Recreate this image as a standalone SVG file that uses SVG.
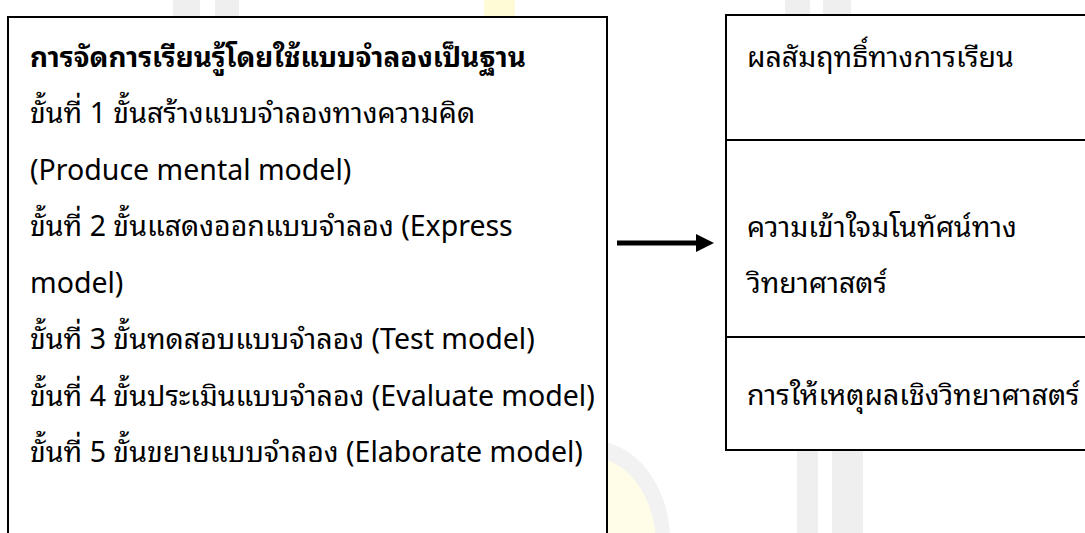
<svg xmlns="http://www.w3.org/2000/svg" width="1085" height="533" viewBox="0 0 1085 533">
<style>
.box{fill:#fff;stroke:#000;stroke-width:2}
.div{stroke:#000;stroke-width:2}
.t{font-family:"Noto Sans Thai Looped","Noto Sans Thai","Noto Sans","DejaVu Sans",sans-serif;font-size:28.5px;fill:#000}
.b{font-weight:bold;font-size:27.8px}
.wg{fill:#efefef}
.wy{fill:#fffbd6}
</style>
<rect width="1085" height="533" fill="#fff"/>
<g id="watermark">
<rect class="wg" x="173" y="0" width="27" height="20"/>
<rect class="wg" x="215" y="0" width="24" height="20"/>
<rect class="wy" x="484" y="0" width="31" height="20"/>
<rect class="wg" x="785" y="0" width="25" height="20"/>
<rect class="wg" x="823" y="0" width="28" height="20"/>
<ellipse cx="590" cy="540" rx="80" ry="100" fill="#f2f2f2"/>
<ellipse cx="590" cy="545" rx="66" ry="88" fill="#fffde8"/>
<rect class="wg" x="797" y="440" width="21" height="93"/>
<rect class="wg" x="832" y="440" width="31" height="93"/>
</g>
<g id="process">
<rect class="box" x="8" y="17" width="599" height="530"/>
<text class="t b" x="30" y="67">การจัดการเรียนรู้โดยใช้แบบจำลองเป็นฐาน</text>
<text class="t" x="30" y="123">ขั้นที่ 1 ขั้นสร้างแบบจำลองทางความคิด</text>
<text class="t" x="30" y="180">(Produce mental model)</text>
<text class="t" x="30" y="236">ขั้นที่ 2 ขั้นแสดงออกแบบจำลอง (Express</text>
<text class="t" x="30" y="293">model)</text>
<text class="t" x="30" y="349">ขั้นที่ 3 ขั้นทดสอบแบบจำลอง (Test model)</text>
<text class="t" x="30" y="406">ขั้นที่ 4 ขั้นประเมินแบบจำลอง (Evaluate model)</text>
<text class="t" x="30" y="462">ขั้นที่ 5 ขั้นขยายแบบจำลอง (Elaborate model)</text>
</g>
<g id="outcomes">
<rect class="box" x="726" y="15" width="370" height="435"/>
<line class="div" x1="726" y1="140" x2="1090" y2="140"/>
<line class="div" x1="726" y1="337" x2="1090" y2="337"/>
<text class="t" x="747" y="67">ผลสัมฤทธิ์ทางการเรียน</text>
<text class="t" x="747" y="237">ความเข้าใจมโนทัศน์ทาง</text>
<text class="t" x="747" y="293">วิทยาศาสตร์</text>
<text class="t" x="747" y="405">การให้เหตุผลเชิงวิทยาศาสตร์</text>
</g>
<g id="connectors">
<rect x="617" y="240.5" width="80" height="5" fill="#000"/>
<polygon points="696,234 714,243 696,252" fill="#000"/>
</g>
</svg>
